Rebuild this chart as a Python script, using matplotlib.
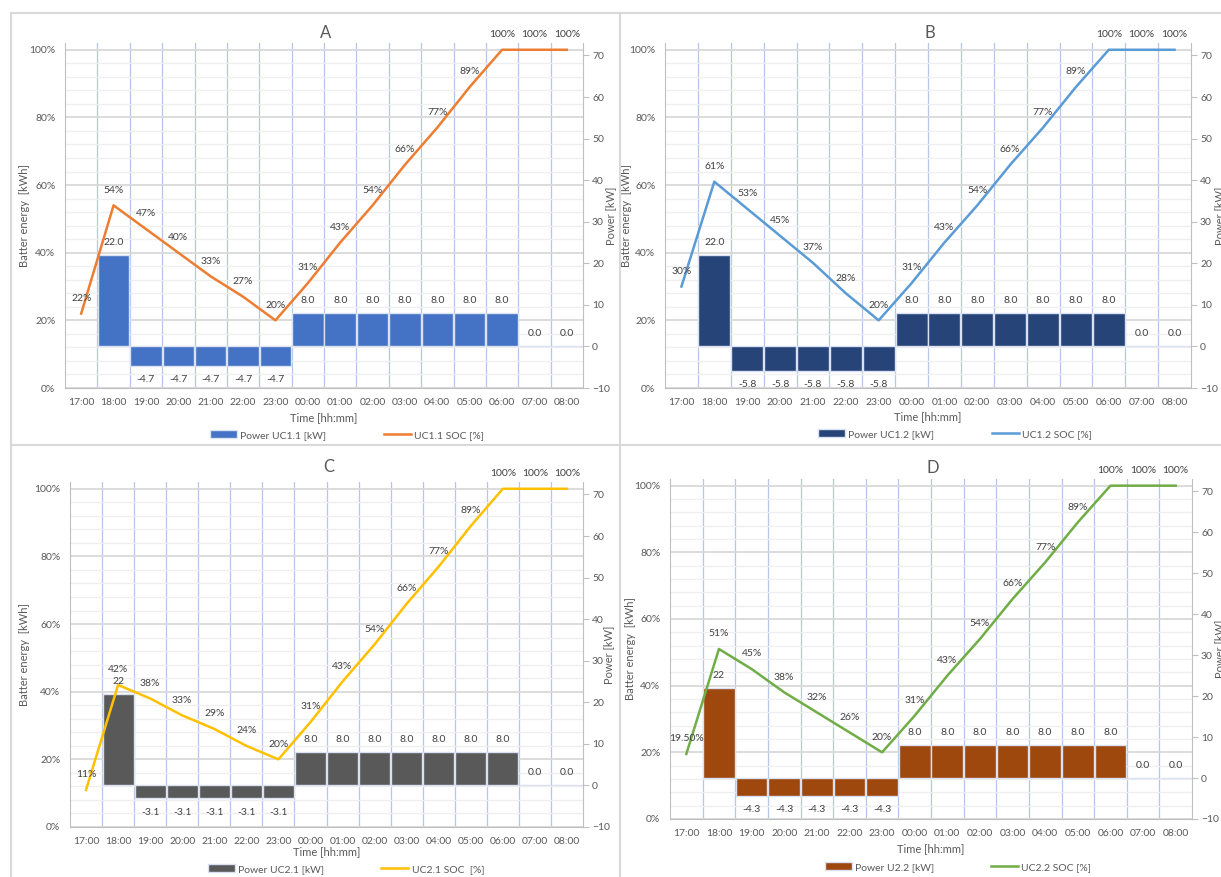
import matplotlib.pyplot as plt
from matplotlib.lines import Line2D
import numpy as np

plt.rcParams['font.family'] = ['Lato', 'DejaVu Sans']

W, H = 1221, 877
nan = np.nan

times = ["17:00", "18:00", "19:00", "20:00", "21:00", "22:00", "23:00", "00:00",
         "01:00", "02:00", "03:00", "04:00", "05:00", "06:00", "07:00", "08:00"]

# panel A
power_a = [nan, 22.0, -4.7, -4.7, -4.7, -4.7, -4.7, 8.0, 8.0, 8.0, 8.0, 8.0, 8.0, 8.0, 0.0, 0.0]
soc_a = [22, 54, 47, 40, 33, 27, 20, 31, 43, 54, 66, 77, 89, 100, 100, 100]
# panel B
power_b = [nan, 22.0, -5.8, -5.8, -5.8, -5.8, -5.8, 8.0, 8.0, 8.0, 8.0, 8.0, 8.0, 8.0, 0.0, 0.0]
soc_b = [30, 61, 53, 45, 37, 28, 20, 31, 43, 54, 66, 77, 89, 100, 100, 100]
# panel C
power_c = [nan, 22.0, -3.1, -3.1, -3.1, -3.1, -3.1, 8.0, 8.0, 8.0, 8.0, 8.0, 8.0, 8.0, 0.0, 0.0]
soc_c = [11, 42, 38, 33, 29, 24, 20, 31, 43, 54, 66, 77, 89, 100, 100, 100]
# panel D
power_d = [nan, 22.0, -4.3, -4.3, -4.3, -4.3, -4.3, 8.0, 8.0, 8.0, 8.0, 8.0, 8.0, 8.0, 0.0, 0.0]
soc_d = [19.5, 51, 45, 38, 32, 26, 20, 31, 43, 54, 66, 77, 89, 100, 100, 100]

panels = [
    dict(title="A", power=power_a, soc=soc_a, peak_fmt="{:.1f}",
         bar_label="Power UC1.1 [kW]", line_label="UC1.1 SOC [%]",
         bar_color="#4472C4", line_color="#ED7D31",
         box=(65, 43, 583, 388), title_y=33, legend=(347, 435), xlab_y=418, ylab_x=25, rlab_x=611),
    dict(title="B", power=power_b, soc=soc_b, peak_fmt="{:.1f}",
         bar_label="Power UC1.2 [kW]", line_label="UC1.2 SOC [%]",
         bar_color="#264478", line_color="#5B9BD5",
         box=(665, 43, 1191, 388), title_y=33, legend=(955, 434), xlab_y=417, ylab_x=626, rlab_x=1220),
    dict(title="C", power=power_c, soc=soc_c, peak_fmt="{:.0f}",
         bar_label="Power UC2.1 [kW]", line_label="UC2.1 SOC  [%]",
         bar_color="#595959", line_color="#FFC000",
         box=(70, 482, 583, 827), title_y=467, legend=(346, 869), xlab_y=852, ylab_x=25, rlab_x=609),
    dict(title="D", power=power_d, soc=soc_d, peak_fmt="{:.0f}",
         bar_label="Power U2.2 [kW]", line_label="UC2.2 SOC [%]",
         bar_color="#9E480E", line_color="#70AD47",
         box=(670, 479, 1192, 819), title_y=468, legend=(958, 867), xlab_y=849, ylab_x=631, rlab_x=1220),
]

txt = "#595959"
lab = "#404040"
fig = plt.figure(figsize=(W / 100, H / 100), dpi=100)

# chart area borders
for xs, ys in [((11, W), (13, 13)), ((11, W), (445, 445)), ((11, 11), (13, H)), ((620, 620), (13, H))]:
    fig.add_artist(Line2D([v / W for v in xs], [1 - v / H for v in ys], color="#D9D9D9", lw=1.5))


def soc_text(v):
    return f"{v:.2f}%" if v != int(v) else f"{v:.0f}%"


for p in panels:
    x0, y0, x1, y1 = p["box"]
    ax = fig.add_axes([x0 / W, 1 - y1 / H, (x1 - x0) / W, (y1 - y0) / H])
    ax2 = ax.twinx()
    x = np.arange(len(times))

    bars = ax2.bar(x, p["power"], width=0.97, color=p["bar_color"], edgecolor="#D9E1F2", lw=1, zorder=2)
    line, = ax2.plot(x, p["soc"], color=p["line_color"], lw=1.8, transform=ax.transData, zorder=3)

    ax.set_xlim(-0.5, 15.5)
    ax.set_ylim(0, 102)
    ax2.set_ylim(-10, 73)

    # grids
    ax.set_yticks(np.arange(0, 101, 20))
    ax.set_yticklabels([f"{v}%" for v in range(0, 101, 20)])
    ax.set_yticks(np.arange(0, 101, 4), minor=True)
    ax.yaxis.grid(True, which="major", color="#D9D9D9", lw=1.3)
    ax.yaxis.grid(True, which="minor", color="#EFEFEF", lw=0.9)
    ax.set_xticks(x)
    ax.set_xticklabels(times)
    ax.set_xticks(np.arange(0.5, 15, 1), minor=True)
    ax.xaxis.grid(True, which="minor", color="#B4C7E7", lw=0.9)
    ax.xaxis.grid(False, which="major")
    ax.tick_params(axis="x", which="both", length=0, pad=7, labelsize=7.5, labelcolor=txt)
    ax.tick_params(axis="y", which="both", length=0, pad=7, labelsize=7.5, labelcolor=txt)

    ax2.set_yticks(np.arange(-10, 71, 10))
    ax2.tick_params(axis="y", length=4.5, color="#BFBFBF", pad=2, labelsize=7.5, labelcolor=txt)

    for s in ["top", "right"]:
        ax.spines[s].set_visible(False)
    for s in ["left", "bottom"]:
        ax.spines[s].set_color("#BFBFBF")
    for s in ["top", "left", "bottom"]:
        ax2.spines[s].set_visible(False)
    ax2.spines["right"].set_color("#BFBFBF")

    # labels
    w_px, h_px = x1 - x0, y1 - y0
    ax.set_ylabel("Batter energy  [kWh]", fontsize=8, color=txt)
    ax.yaxis.set_label_coords(-(x0 - p["ylab_x"]) / w_px, 0.5)
    ax.yaxis.label.set_va("center")
    ax2.set_ylabel("Power [kW]", fontsize=8, color=txt)
    ax2.yaxis.set_label_coords(1 + (p["rlab_x"] - x1) / w_px, 0.5)
    ax2.yaxis.label.set_va("center")
    ax.set_xlabel("Time [hh:mm]", fontsize=8, color=txt)
    ax.xaxis.set_label_coords(0.5, -(p["xlab_y"] - y1) / h_px)
    ax.xaxis.label.set_va("center")

    fig.text(((x0 + x1) / 2 + 2) / W, 1 - p["title_y"] / H, p["title"], ha="center", va="center",
             fontsize=12, color=txt)

    # data labels
    for xi, v in zip(x, p["soc"]):
        ax2.annotate(soc_text(v), (xi, v), xycoords=ax.transData, xytext=(0, 11),
                     textcoords="offset points", ha="center", va="center", fontsize=7.5,
                     color=lab, annotation_clip=False, zorder=4)
    for xi, v in zip(x, p["power"]):
        if np.isnan(v):
            continue
        s = p["peak_fmt"].format(v) if v > 10 else f"{v:.1f}"
        off = -10 if v < 0 else 9
        ax2.annotate(s, (xi, v), xytext=(0, off), textcoords="offset points",
                     ha="center", va="center", fontsize=7.5, color=lab, zorder=4)

    cx, cy = p["legend"]
    leg = fig.legend([bars, line], [p["bar_label"], p["line_label"]], loc="center",
                     bbox_to_anchor=(cx / W, 1 - cy / H), ncol=2, frameon=False, fontsize=7.5,
                     handlelength=2.6, columnspacing=5.5, handletextpad=0.3, borderaxespad=0)
    for t in leg.get_texts():
        t.set_color(txt)

fig.savefig("out.png", dpi=100)
